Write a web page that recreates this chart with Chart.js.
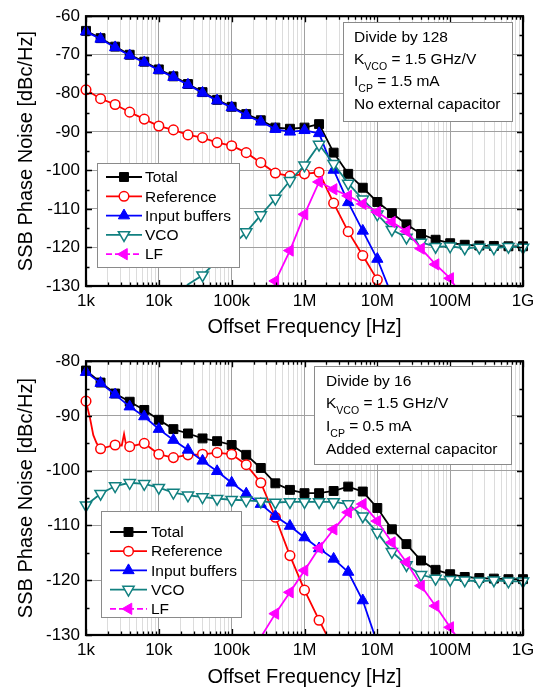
<!DOCTYPE html>
<html><head><meta charset="utf-8">
<script src="https://cdn.jsdelivr.net/npm/chart.js@4.4.1/dist/chart.umd.min.js"></script>
<style>
html,body{margin:0;padding:0;background:#fff;width:547px;height:691px;overflow:hidden;}
#w1{position:absolute;left:0;top:0;width:547px;height:345px;}
#w2{position:absolute;left:0;top:345px;width:547px;height:346px;}
</style></head><body>
<div id="w1"><canvas id="c1"></canvas></div>
<div id="w2"><canvas id="c2"></canvas></div>
<script>
// ---------- DATA ----------
const freqs = [1e3, 1.585e3, 2.512e3, 3.981e3, 6.31e3, 1e4, 1.585e4, 2.512e4, 3.981e4, 6.31e4,
  1e5, 1.585e5, 2.512e5, 3.981e5, 6.31e5, 1e6, 1.585e6, 2.512e6, 3.981e6, 6.31e6,
  1e7, 1.585e7, 2.512e7, 3.981e7, 6.31e7, 1e8, 1.585e8, 2.512e8, 3.981e8, 6.31e8, 1e9];

const seriesNames = ['Total', 'Reference', 'Input buffers', 'VCO', 'LF'];
const xTickVals = [1e3, 1e4, 1e5, 1e6, 1e7, 1e8, 1e9];
const xTickLabels = ['1k', '10k', '100k', '1M', '10M', '100M', '1G'];
const yTicksTop = [-130, -120, -110, -100, -90, -80, -70, -60];
const yTicksBot = [-130, -120, -110, -100, -90, -80];
const xTitle = 'Offset Frequency [Hz]';
const yTitle = 'SSB Phase Noise [dBc/Hz]';

// top panel (divide by 128)
const topTotal = [-63.8,-65.7,-67.9,-70.0,-71.8,-73.8,-75.6,-77.6,-79.7,-81.7,-83.5,-85.4,-87.0,-88.9,-89.2,-88.9,-88.0,-95.4,-100.9,-104.5,-108.2,-111.1,-114.0,-116.5,-118.0,-118.9,-119.3,-119.5,-119.6,-119.7,-119.7];
const topRef = [-79.1,-81.4,-82.9,-84.9,-86.7,-88.5,-89.5,-90.8,-91.5,-92.8,-93.6,-95.4,-98.0,-100.7,-101.5,-100.9,-100.5,-108.5,-115.9,-122.1,-128.4,-136.0,null,null,null,null,null,null,null,null,null];
const topBuf = [-64.0,-65.9,-68.1,-70.2,-72.0,-74.0,-75.8,-77.8,-79.9,-81.9,-83.7,-85.7,-87.4,-89.3,-90.0,-89.6,-90.4,-99.9,-108.3,-115.7,-123.0,-132.5,null,null,null,null,null,null,null,null,null];
const topVco = [null,null,null,null,null,null,-134.0,-129.6,-127.2,-123.4,-119.7,-116.0,-111.6,-107.3,-102.7,-98.7,-93.3,-98.3,-103.4,-107.5,-111.4,-115.4,-117.4,-118.7,-119.8,-119.7,-120.2,-120.0,-120.2,-119.8,-120.0];
const topLf = [null,null,null,null,null,null,null,null,null,null,null,null,-145.0,-128.7,-120.8,-111.4,-103.0,-104.9,-106.6,-108.7,-110.8,-113.4,-115.8,-120.3,-124.4,-128.0,-134.0,null,null,null,null];

// bottom panel (divide by 16)
const botTotal = [-81.7,-83.9,-85.9,-87.4,-88.9,-90.7,-92.4,-93.2,-94.1,-94.6,-95.3,-97.1,-99.5,-102.3,-103.5,-104.1,-104.1,-103.7,-102.9,-103.8,-106.8,-110.7,-113.4,-116.4,-118.1,-118.9,-119.4,-119.6,-119.7,-119.8,-119.8];
const botRef = [-87.3,-96.0,-95.3,-95.6,-95.0,-97.0,-97.6,-97.1,-97.0,-96.7,-97.0,-98.9,-102.2,-108.5,-115.5,-121.8,-127.3,-132.5,null,null,null,null,null,null,null,null,null,null,null,null,null];
const botRefExtraFreq = [1.135e3, 1.26e3, 1.40e3, 3.1e3, 3.33e3, 3.55e3];
const botRefExtraVal = [-90.4, -93.5, -95.0, -95.4, -93.3, -95.3];
const botBuf = [-82.0,-84.0,-86.1,-88.3,-90.1,-92.4,-94.4,-96.2,-98.2,-100.1,-102.2,-104.2,-106.1,-108.3,-110.1,-112.2,-114.2,-116.1,-118.5,-123.7,-131.5,null,null,null,null,null,null,null,null,null,null];
const botVco = [-106.3,-104.2,-102.8,-102.2,-102.4,-103.1,-104.0,-104.5,-104.8,-105.1,-105.3,-105.4,-105.6,-105.8,-105.7,-105.7,-105.7,-105.7,-106.1,-108.3,-111.3,-114.8,-117.2,-119.0,-119.7,-119.9,-120.0,-120.2,-120.0,-120.2,-120.2];
const botLf = [null,null,null,null,null,null,null,null,null,null,null,-135.0,-130.4,-126.1,-122.2,-118.2,-114.1,-110.7,-107.6,-106.1,-109.2,-113.1,-116.7,-121.0,-124.7,-128.6,-132.5,null,null,null,null];

const noteTop = ['Divide by 128', ['K', 'VCO', ' = 1.5 GHz/V'], ['I', 'CP', ' = 1.5 mA'], 'No external capacitor'];
const noteBot = ['Divide by 16', ['K', 'VCO', ' = 1.5 GHz/V'], ['I', 'CP', ' = 0.5 mA'], 'Added external capacitor'];

// ---------- HELPERS ----------
const FONT = "'Liberation Sans', Arial, Helvetica, sans-serif";
const xGridVals = [];
xTickVals.forEach((d, i) => { if (i < xTickVals.length - 1) { for (let m = 1; m <= 9; m++) xGridVals.push(d * m); } else xGridVals.push(d); });
const isDecade = v => xTickVals.some(t => Math.abs(v / t - 1) < 1e-6);
const labelFor = v => { const i = xTickVals.findIndex(t => Math.abs(v / t - 1) < 1e-6); return i >= 0 ? xTickLabels[i] : ''; };

function pts(vals) {
  const out = [];
  vals.forEach((v, i) => { if (v !== null) out.push({x: freqs[i], y: v}); });
  return out;
}
function ptsWithExtra(vals, ef, ev) {
  const out = pts(vals).concat(ef.map((f, i) => ({x: f, y: ev[i], extra: true})));
  out.sort((a, b) => a.x - b.x);
  return out;
}

const styles = [
  {color: '#000000', pointStyle: 'rect', rotation: 0, r: 6.3, bg: '#000000', pbw: 1, order: 5},
  {color: '#ff0000', pointStyle: 'circle', rotation: 0, r: 4.8, bg: '#ffffff', pbw: 1.5, order: 4},
  {color: '#0000ff', pointStyle: 'triangle', rotation: 0, r: 6.5, bg: '#0000ff', pbw: 1, order: 3},
  {color: '#118080', pointStyle: 'triangle', rotation: 180, r: 6.5, bg: '#ffffff', pbw: 1.5, order: 2},
  {color: '#ff00ff', pointStyle: 'triangle', rotation: 270, r: 6.5, bg: '#ff00ff', pbw: 1, order: 1, dash: [6, 3]}
];

function makeDatasets(dataList) {
  return dataList.map((d, i) => {
    const s = styles[i];
    return {
      label: seriesNames[i], data: d, order: s.order,
      borderColor: s.color, borderWidth: 1.8, tension: 0,
      pointStyle: s.pointStyle, rotation: s.rotation,
      pointBackgroundColor: s.bg, pointBorderColor: s.color, pointBorderWidth: s.pbw,
      pointRadius: ctx => { const p = ctx.raw; if (!p || p.extra || p.y < -129.3) return 0; return s.r; },
      pointHoverRadius: 0,
      clip: {left: 8, top: 8, right: 8, bottom: 0},
      _st: s
    };
  });
}

function drawLegend(ctx, chart, L) {
  ctx.save();
  ctx.fillStyle = '#fff';
  ctx.fillRect(L.x, L.y, L.w, L.h);
  ctx.strokeStyle = '#8a8a8a'; ctx.lineWidth = 1;
  ctx.strokeRect(L.x + 0.5, L.y + 0.5, L.w, L.h);
  chart.data.datasets.forEach((ds, i) => {
    const s = ds._st;
    const cy = L.y0 + i * L.dy;
    ctx.strokeStyle = s.color; ctx.lineWidth = 1.8;
    ctx.setLineDash(s.dash || []);
    ctx.beginPath(); ctx.moveTo(L.lx0, cy); ctx.lineTo(L.lx1, cy); ctx.stroke();
    ctx.setLineDash([]);
    ctx.fillStyle = s.bg; ctx.strokeStyle = s.color; ctx.lineWidth = s.pbw;
    Chart.helpers.drawPoint(ctx, {pointStyle: s.pointStyle, rotation: s.rotation, radius: s.r, borderWidth: s.pbw}, (L.lx0 + L.lx1) / 2, cy);
    ctx.fillStyle = '#000';
    ctx.font = '15.5px ' + FONT;
    ctx.textBaseline = 'middle'; ctx.textAlign = 'left';
    ctx.fillText(ds.label, L.tx, cy + 1);
  });
  ctx.restore();
}

function drawNote(ctx, N, lines) {
  ctx.save();
  ctx.fillStyle = '#fff';
  ctx.fillRect(N.x, N.y, N.w, N.h);
  ctx.strokeStyle = '#8a8a8a'; ctx.lineWidth = 1;
  ctx.strokeRect(N.x + 0.5, N.y + 0.5, N.w, N.h);
  ctx.fillStyle = '#000';
  ctx.textBaseline = 'middle'; ctx.textAlign = 'left';
  lines.forEach((ln, i) => {
    const cy = N.y0 + i * N.dy;
    let x = N.tx;
    if (typeof ln === 'string') {
      ctx.font = '15.5px ' + FONT; ctx.fillText(ln, x, cy);
    } else {
      ctx.font = '15.5px ' + FONT; ctx.fillText(ln[0], x, cy); x += ctx.measureText(ln[0]).width;
      ctx.font = '10.5px ' + FONT; ctx.fillText(ln[1], x, cy + 7); x += ctx.measureText(ln[1]).width;
      ctx.font = '15.5px ' + FONT; ctx.fillText(ln[2], x, cy);
    }
  });
  ctx.restore();
}

function framePlugin(cfg) {
  return {
    id: 'frame' + cfg.name,
    afterDatasetsDraw(chart) {
      const {ctx, chartArea: a, scales: {x, y}} = chart;
      ctx.save();
      ctx.strokeStyle = '#000';
      ctx.lineWidth = 1.3;
      xGridVals.forEach(v => {
        const px = Math.round(x.getPixelForValue(v)) + 0.5;
        const len = isDecade(v) ? 6 : 3.5;
        ctx.beginPath();
        ctx.moveTo(px, a.bottom); ctx.lineTo(px, a.bottom - len);
        ctx.moveTo(px, a.top); ctx.lineTo(px, a.top + len);
        ctx.stroke();
      });
      for (let v = cfg.yMin; v <= cfg.yMax; v += 5) {
        const py = Math.round(y.getPixelForValue(v)) + 0.5;
        const len = (v % 10 === 0) ? 6 : 3.5;
        ctx.beginPath();
        ctx.moveTo(a.left, py); ctx.lineTo(a.left + len, py);
        ctx.moveTo(a.right, py); ctx.lineTo(a.right - len, py);
        ctx.stroke();
      }
      ctx.lineWidth = 2.2;
      ctx.strokeRect(a.left, a.top, a.right - a.left, a.bottom - a.top);
      ctx.restore();
      drawLegend(ctx, chart, cfg.legend);
      drawNote(ctx, cfg.note, cfg.noteLines);
    }
  };
}

function makeChart(id, cfg, dataList) {
  return new Chart(document.getElementById(id), {
    type: 'line',
    data: {datasets: makeDatasets(dataList)},
    options: {
      responsive: true, maintainAspectRatio: false, animation: false,
      events: [],
      layout: {padding: {top: cfg.padTop, right: 24, left: 0, bottom: 0}},
      plugins: {legend: {display: false}, tooltip: {enabled: false}},
      scales: {
        x: {
          type: 'logarithmic', min: 1e3, max: 1e9,
          afterFit: s => { s.height = cfg.xAxisH; },
          afterBuildTicks: s => { s.ticks = xGridVals.map(v => ({value: v})); },
          ticks: {autoSkip: false, maxRotation: 0, minRotation: 0, padding: cfg.xLabPad, color: '#000',
                  font: {family: FONT, size: 17}, callback: v => labelFor(v)},
          grid: {drawTicks: false, lineWidth: 1, color: c => (c.tick && isDecade(c.tick.value)) ? '#a0a0a0' : '#dcdcdc'},
          border: {display: false},
          title: {display: true, text: xTitle, color: '#000', font: {family: FONT, size: 20}, padding: {top: 0, bottom: cfg.xTitlePad}}
        },
        y: {
          type: 'linear', min: cfg.yMin, max: cfg.yMax,
          afterFit: s => { s.width = 86; },
          afterBuildTicks: s => { s.ticks = cfg.yTicks.map(v => ({value: v})); },
          ticks: {padding: 6, color: '#000', font: {family: FONT, size: 17}, callback: v => String(v)},
          grid: {drawTicks: false, lineWidth: 1, color: '#a0a0a0'},
          border: {display: false},
          title: {display: true, text: yTitle, color: '#000', font: {family: FONT, size: 20}, padding: {top: 14, bottom: 0}}
        }
      }
    },
    plugins: [framePlugin(cfg)]
  });
}

makeChart('c1', {
  name: 'top', padTop: 11, xAxisH: 59, xLabPad: 5, xTitlePad: 6,
  yMin: -130, yMax: -60, yTicks: yTicksTop,
  legend: {x: 97, y: 163, w: 142, h: 104, lx0: 106, lx1: 142, y0: 177, dy: 19.3, tx: 145},
  note: {x: 343, y: 22, w: 169, h: 99, tx: 354, y0: 37.5, dy: 22.3},
  noteLines: noteTop
}, [pts(topTotal), pts(topRef), pts(topBuf), pts(topVco), pts(topLf)]);

makeChart('c2', {
  name: 'bot', padTop: 14, xAxisH: 56, xLabPad: 5, xTitlePad: 2,
  yMin: -130, yMax: -80, yTicks: yTicksBot,
  legend: {x: 101, y: 166, w: 140, h: 106, lx0: 110, lx1: 147, y0: 187, dy: 19.2, tx: 151},
  note: {x: 314, y: 21, w: 197, h: 98, tx: 326, y0: 36.5, dy: 22.6},
  noteLines: noteBot
}, [pts(botTotal), ptsWithExtra(botRef, botRefExtraFreq, botRefExtraVal), pts(botBuf), pts(botVco), pts(botLf)]);
</script>
</body></html>
